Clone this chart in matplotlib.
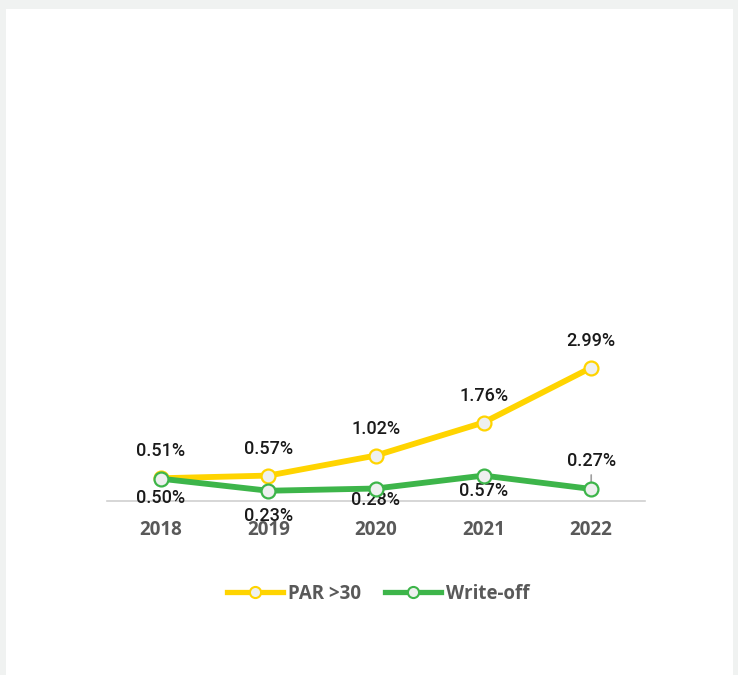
import matplotlib.pyplot as plt
from matplotlib.lines import Line2D

# Data
years = ["2018", "2019", "2020", "2021", "2022"]
par30 = [0.51, 0.57, 1.02, 1.76, 2.99]
write_off = [0.50, 0.23, 0.28, 0.57, 0.27]
par_labels = ["0.51%", "0.57%", "1.02%", "1.76%", "2.99%"]
wo_labels = ["0.50%", "0.23%", "0.28%", "0.57%", "0.27%"]

# label offsets in pixels (layout, as placed in the original)
wo_offsets = [-19, -25, -11, -15, 28]

yellow = "#FFD400"
green = "#3DB54A"
marker_face = "#EEF0EF"
px = 72 / 100  # pixels -> points

fig = plt.figure(figsize=(7.38, 6.75), dpi=100)
fig.patch.set_facecolor("#F0F2F1")

# white card
card = fig.add_axes([6 / 738, 0, 727 / 738, 666 / 675])
card.set_facecolor("white")
card.set_xticks([])
card.set_yticks([])
for s in card.spines.values():
    s.set_visible(False)

ax = fig.add_axes([107 / 738, 174 / 675, 538 / 738, 400 / 675])
ax.patch.set_alpha(0)
x = range(len(years))

ax.plot(x, par30, color=yellow, lw=4.2, marker="o", ms=10,
        mfc=marker_face, mec=yellow, mew=1.6, solid_capstyle="round", zorder=3)
ax.plot(x, write_off, color=green, lw=4.2, marker="o", ms=10,
        mfc=marker_face, mec=green, mew=1.6, solid_capstyle="round", zorder=4)

ax.set_xlim(-0.5, len(years) - 0.5)
ax.set_ylim(0, 400 / 44.6)

lab_font = dict(family="Roboto", fontweight="medium", fontsize=13, color="#1A1A1A",
                ha="center", va="center")
for i, (v, t) in enumerate(zip(par30, par_labels)):
    ax.annotate(t, (i, v), xytext=(0, 27 * px), textcoords="offset points", **lab_font)
for i, (v, t) in enumerate(zip(write_off, wo_labels)):
    ax.annotate(t, (i, v), xytext=(0, wo_offsets[i] * px), textcoords="offset points", **lab_font)
# leader line for the last write-off label
ax.annotate("", (len(years) - 1, write_off[-1]), xytext=(0, 14 * px), textcoords="offset points",
            arrowprops=dict(arrowstyle="-", color="#A0A0A0", lw=1.2, shrinkA=0, shrinkB=2))

ax.set_xticks(list(x))
ax.set_xticklabels(years, family="Open Sans", fontweight="bold", fontsize=13.5, color="#595959")
ax.tick_params(axis="x", length=0, pad=14)
ax.set_yticks([])
for s in ["top", "right", "left"]:
    ax.spines[s].set_visible(False)
ax.spines["bottom"].set_color("#D0D0D0")
ax.spines["bottom"].set_linewidth(1.2)

handles = [
    Line2D([0], [0], color=yellow, lw=3.8, marker="o", ms=8, mfc=marker_face, mec=yellow, mew=1.5),
    Line2D([0], [0], color=green, lw=3.8, marker="o", ms=8, mfc=marker_face, mec=green, mew=1.5),
]
fig.legend(handles, ["PAR >30", "Write-off"], loc="center", bbox_to_anchor=(378 / 738, 1 - 594 / 675),
           ncol=2, frameon=False, handlelength=3.0, handletextpad=0.25, columnspacing=1.3,
           prop=dict(family="Open Sans", weight="bold", size=13.5))
for t in fig.legends[0].get_texts():
    t.set_color("#595959")

fig.savefig("out.png", dpi=100, facecolor=fig.get_facecolor())
